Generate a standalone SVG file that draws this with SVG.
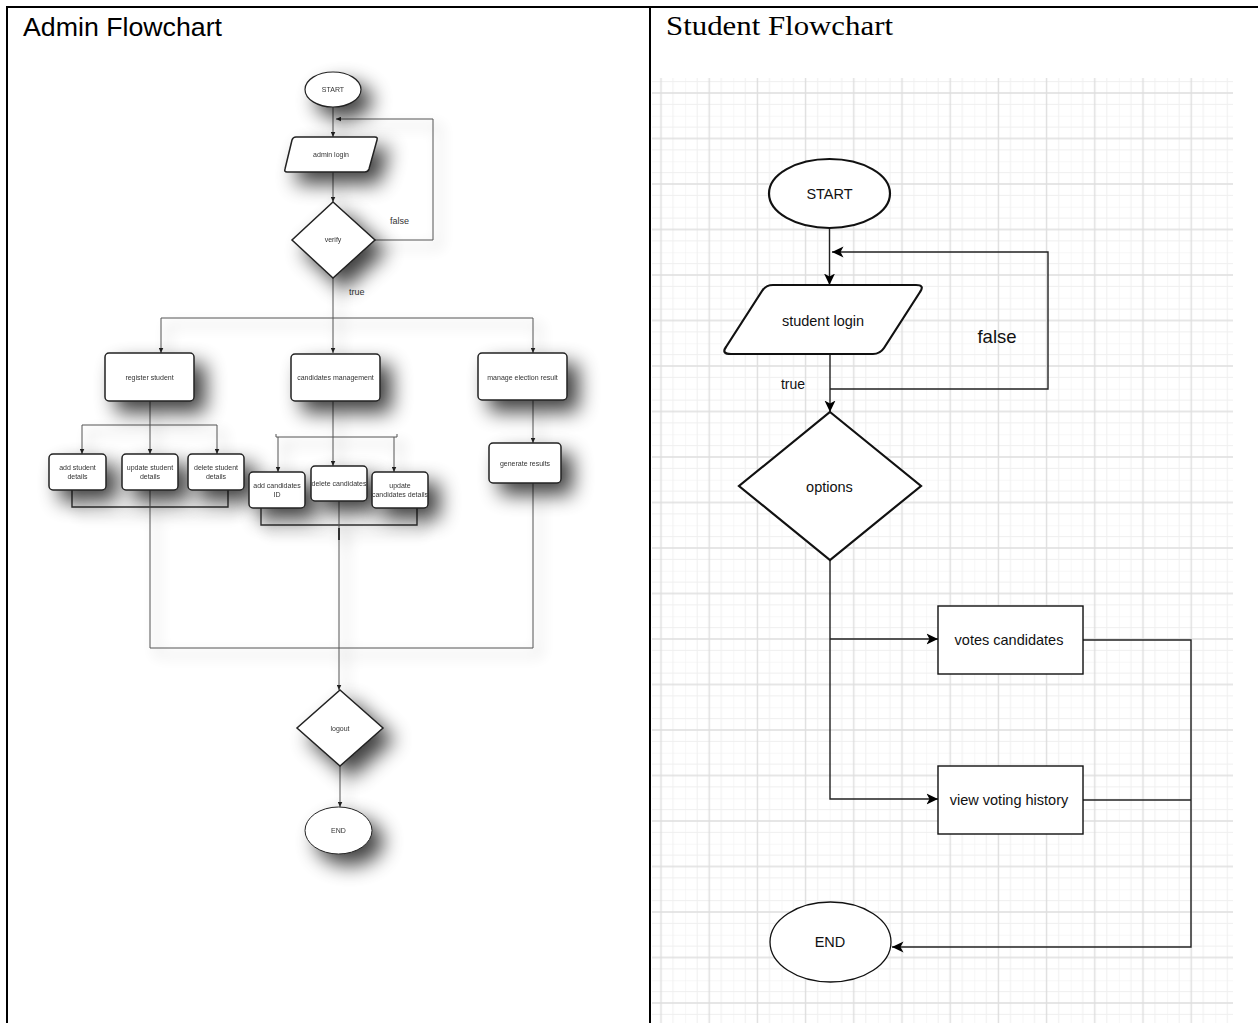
<svg xmlns="http://www.w3.org/2000/svg" width="1258" height="1023" viewBox="0 0 1258 1023">
<style>
.ttl{font-family:"Liberation Sans",Arial,sans-serif;font-size:25px;fill:#000}
.ttl2{font-family:"Liberation Serif","Times New Roman",serif;font-size:27px;fill:#000}
.an{fill:#fff;stroke:#222;stroke-width:1.5}
.at{font-family:"Liberation Sans",Arial,sans-serif;font-size:7px;fill:#333;text-anchor:middle}
.al{font-family:"Liberation Sans",Arial,sans-serif;font-size:9px;fill:#333}
.ac{fill:none;stroke:#555;stroke-width:1}
.sn{fill:#fff;stroke:#111;stroke-width:1.4}
.st{font-family:"Liberation Sans",Arial,sans-serif;font-size:14.5px;fill:#111;text-anchor:middle}
.sc{fill:none;stroke:#222;stroke-width:1.4}
.bd{stroke:#000;stroke-width:2}
</style>
<defs>
<filter id="sh" x="-80%" y="-80%" width="300%" height="300%">
<feGaussianBlur in="SourceAlpha" stdDeviation="10"/>
<feOffset dx="11" dy="11"/>
<feComponentTransfer><feFuncA type="linear" slope="0.75"/></feComponentTransfer>
<feMerge><feMergeNode/><feMergeNode in="SourceGraphic"/></feMerge>
</filter>
<filter id="shl" x="-20%" y="-20%" width="140%" height="140%">
<feGaussianBlur in="SourceAlpha" stdDeviation="7"/>
<feOffset dx="7" dy="7"/>
<feComponentTransfer><feFuncA type="linear" slope="0.45"/></feComponentTransfer>
<feMerge><feMergeNode/><feMergeNode in="SourceGraphic"/></feMerge>
</filter>
<marker id="a1" viewBox="0 0 10 10" refX="10" refY="5" markerWidth="5" markerHeight="5" markerUnits="userSpaceOnUse" orient="auto"><path d="M0,0.5 L10,5 L0,9.5 Z" fill="#222"/></marker>
<marker id="a2" viewBox="0 0 12 12" refX="11.5" refY="6" markerWidth="12" markerHeight="12" markerUnits="userSpaceOnUse" orient="auto"><path d="M0,0.5 L11.5,6 L0,11.5 L3,6 Z" fill="#000"/></marker>
<pattern id="grid" x="636.9" y="24.75" width="48.2" height="45.5" patternUnits="userSpaceOnUse">
<g stroke="#efefef" stroke-width="1">
<path d="M0,0 V45.5 M12.05,0 V45.5 M36.15,0 V45.5 M0,0 H48.2 M0,11.375 H48.2 M0,34.125 H48.2"/>
</g>
<g stroke="#dedede" stroke-width="1.4">
<path d="M24.1,0 V45.5 M0,22.75 H48.2"/>
</g>
</pattern>
</defs>
<rect width="1258" height="1023" fill="#fff"/>
<rect x="652" y="78" width="581" height="945" fill="url(#grid)"/>
<g id="table">
<line class="bd" x1="6" y1="7" x2="1258" y2="7"/>
<line class="bd" x1="7" y1="6" x2="7" y2="1023"/>
<line class="bd" x1="650" y1="6" x2="650" y2="1023"/>
</g>
<text class="ttl" x="23" y="36" textLength="199" lengthAdjust="spacingAndGlyphs">Admin Flowchart</text>
<text class="ttl2" x="666" y="35" textLength="227" lengthAdjust="spacingAndGlyphs">Student Flowchart</text>

<g id="admin-connectors" filter="url(#shl)">
<path class="ac" d="M333,107 V137" marker-end="url(#a1)"/>
<path class="ac" d="M375,240 H433 V119 H336" marker-end="url(#a1)"/>
<path class="ac" d="M333,172 V202" marker-end="url(#a1)"/>
<path class="ac" d="M333,278 V353" marker-end="url(#a1)"/>
<path class="ac" d="M161,318 H533"/>
<path class="ac" d="M161,318 V353" marker-end="url(#a1)"/>
<path class="ac" d="M533,318 V353" marker-end="url(#a1)"/>
<path class="ac" d="M150,401 V454" marker-end="url(#a1)"/>
<path class="ac" d="M82,425 H217"/>
<path class="ac" d="M82,425 V454" marker-end="url(#a1)"/>
<path class="ac" d="M217,425 V454" marker-end="url(#a1)"/>
<path class="ac" d="M72,490 V507 H228 V490" style="stroke:#333;stroke-width:1.4"/>
<path class="ac" d="M150,490 V648 H533 V483"/>
<path class="ac" d="M333,401 V466" marker-end="url(#a1)"/>
<path class="ac" d="M276,434 V437 H397 V434"/>
<path class="ac" d="M278,437 V472" marker-end="url(#a1)"/>
<path class="ac" d="M394,437 V472" marker-end="url(#a1)"/>
<path class="ac" d="M261,508 V525 H417 V508" style="stroke:#333;stroke-width:1.4"/>
<path class="ac" d="M339,501 V690" marker-end="url(#a1)"/>
<path class="ac" d="M339,528 V540" style="stroke:#333;stroke-width:2"/>
<path class="ac" d="M533,400 V443" marker-end="url(#a1)"/>
<path class="ac" d="M340,766 V807" marker-end="url(#a1)"/>
</g>
<text class="al" x="390" y="224">false</text>
<text class="al" x="349" y="295">true</text>

<g id="a-start" filter="url(#sh)"><ellipse class="an" cx="333" cy="89.5" rx="28" ry="17.5" style="stroke-width:1.2"/><text class="at" x="333" y="92">START</text></g>
<g id="a-login" filter="url(#sh)"><path class="an" d="M296,137 H375 Q378,137 377,140 L369,169 Q368,172 365,172 H287 Q284,172 285,169 L292,140 Q293,137 296,137 Z"/><text class="at" x="331" y="157">admin login</text></g>
<g id="a-verify" filter="url(#sh)"><polygon class="an" points="333,202 375,240 333,278 292,240"/><text class="at" x="333" y="242">verify</text></g>
<g id="a-register" filter="url(#sh)"><rect class="an" x="105" y="353" width="89" height="48" rx="4"/><text class="at" x="149.5" y="380">register student</text></g>
<g id="a-cand" filter="url(#sh)"><rect class="an" x="291" y="354" width="89" height="47" rx="4"/><text class="at" x="335.5" y="380">candidates management</text></g>
<g id="a-manage" filter="url(#sh)"><rect class="an" x="478" y="353" width="89" height="47" rx="4"/><text class="at" x="522.5" y="380">manage election result</text></g>
<g id="a-add-stu" filter="url(#sh)"><rect class="an" x="49" y="454" width="57" height="36" rx="4"/><text class="at" x="77.5" y="470">add student</text><text class="at" x="77.5" y="479">details</text></g>
<g id="a-upd-stu" filter="url(#sh)"><rect class="an" x="122" y="454" width="56" height="36" rx="4"/><text class="at" x="150" y="470">update student</text><text class="at" x="150" y="479">details</text></g>
<g id="a-del-stu" filter="url(#sh)"><rect class="an" x="188" y="454" width="56" height="36" rx="4"/><text class="at" x="216" y="470">delete student</text><text class="at" x="216" y="479">details</text></g>
<g id="a-add-cand" filter="url(#sh)"><rect class="an" x="249" y="472" width="56" height="36" rx="4"/><text class="at" x="277" y="488">add candidates</text><text class="at" x="277" y="497">ID</text></g>
<g id="a-del-cand" filter="url(#sh)"><rect class="an" x="311" y="466" width="56" height="35" rx="4"/><text class="at" x="339" y="486">delete candidates</text></g>
<g id="a-upd-cand" filter="url(#sh)"><rect class="an" x="372" y="472" width="56" height="36" rx="4"/><text class="at" x="400" y="488">update</text><text class="at" x="400" y="497">candidates details</text></g>
<g id="a-gen" filter="url(#sh)"><rect class="an" x="489" y="443" width="72" height="40" rx="4"/><text class="at" x="525" y="466">generate results</text></g>
<g id="a-logout" filter="url(#sh)"><polygon class="an" points="340,690 383,728 340,766 297,728"/><text class="at" x="340" y="731">logout</text></g>
<g id="a-end" filter="url(#sh)"><ellipse class="an" cx="338.5" cy="830.5" rx="33.5" ry="23.5" style="stroke-width:1"/><text class="at" x="338.5" y="833">END</text></g>

<g id="student-connectors">
<path class="sc" d="M829.5,228 V285" marker-end="url(#a2)"/>
<path class="sc" d="M830,389 H1048 V252 H832" marker-end="url(#a2)"/>
<path class="sc" d="M830,354 V412" marker-end="url(#a2)"/>
<path class="sc" d="M830,560 V799 H938" marker-end="url(#a2)"/>
<path class="sc" d="M830,639 H938" marker-end="url(#a2)"/>
<path class="sc" d="M1083,640 H1191 V947 H892" marker-end="url(#a2)"/>
<path class="sc" d="M1083,800 H1191"/>
</g>
<text class="st" x="997" y="343" style="font-size:18.5px">false</text>
<text class="st" x="793" y="389" style="font-size:14px">true</text>

<g id="s-start"><ellipse class="sn" cx="829.5" cy="193.5" rx="60.5" ry="34.5" style="stroke-width:2.2"/><text class="st" x="829.5" y="199">START</text></g>
<g id="s-login"><path class="sn" d="M773,285 H916 Q925,285 920,292 L884,348 Q880,354 873,354 H731 Q721,354 726,347 L762,291 Q766,285 773,285 Z" style="stroke-width:2.2"/><text class="st" x="823" y="326">student login</text></g>
<g id="s-options"><polygon class="sn" points="830,412 921,486 830,560 739,486" style="stroke-width:2.2"/><text class="st" x="829.5" y="492">options</text></g>
<g id="s-votes"><rect class="sn" x="938" y="606" width="145" height="68"/><text class="st" x="1009" y="645">votes candidates</text></g>
<g id="s-history"><rect class="sn" x="938" y="766" width="145" height="68"/><text class="st" x="1009" y="805">view voting history</text></g>
<g id="s-end"><ellipse class="sn" cx="830.5" cy="942" rx="60.5" ry="40" style="stroke-width:1.3"/><text class="st" x="830" y="947">END</text></g>
</svg>
